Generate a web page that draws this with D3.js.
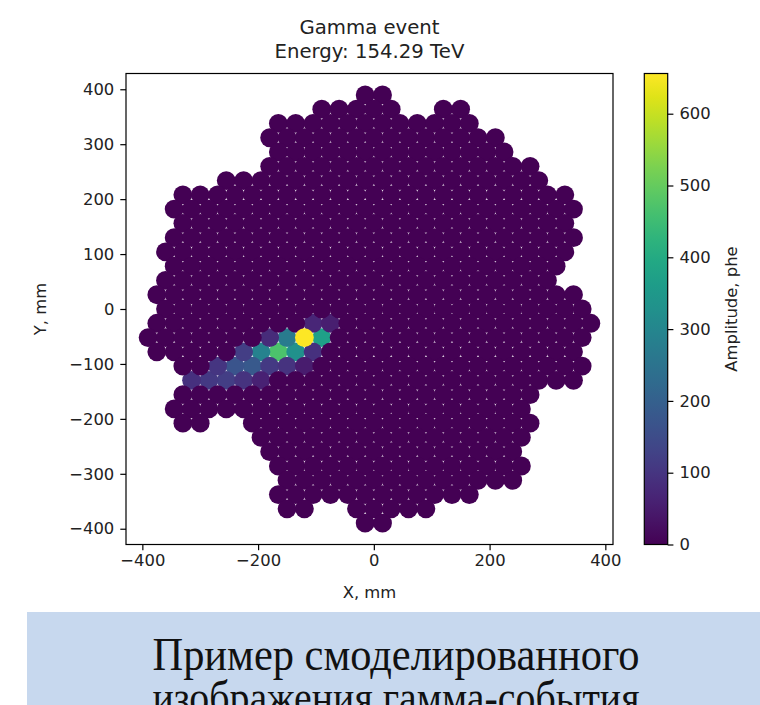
<!DOCTYPE html>
<html>
<head>
<meta charset="utf-8">
<script src="https://cdn.jsdelivr.net/npm/d3@7"></script>
<style>
body { margin: 0; background: #fff; }
svg { display: block; font-family: "DejaVu Sans", sans-serif; }
</style>
</head>
<body>
<svg width="760" height="705"></svg>
<script>
var svg = d3.select("svg");

// camera: hexagonal grid, pitch in mm, rows are horizontal
var pitch = 30,
    rowStep = pitch * Math.sqrt(3) / 2;

// camera outline: [row, first x, last x] (mm)
var cameraSegments = [
  [15, -15, 15],
  [14, -90, 30], [14, 120, 150],
  [13, -165, 165],
  [12, -180, 210],
  [11, -165, 225],
  [10, -180, 270],
  [9, -255, 285],
  [8, -330, 330],
  [7, -345, 345],
  [6, -330, 330],
  [5, -345, 345],
  [4, -360, 330],
  [3, -345, 315],
  [2, -360, 300],
  [1, -375, 345],
  [0, -360, 360],
  [-1, -375, 375],
  [-2, -390, 360],
  [-3, -375, 345],
  [-4, -330, 360],
  [-5, -315, 345],
  [-6, -330, 270],
  [-7, -345, 255],
  [-8, -330, -300], [-8, -210, 270],
  [-9, -195, 255],
  [-10, -180, 240],
  [-11, -165, 255],
  [-12, -150, 240],
  [-13, -165, 165],
  [-14, -150, -120], [-14, -30, 90],
  [-15, -15, 15]
];

// pixels with signal (everything else ~0 phe)
var litRow = [-1, -1,
              -2, -2, -2, -2,
              -3, -3, -3, -3, -3,
              -4, -4, -4, -4, -4, -4,
              -5, -5, -5, -5, -5];
var litX   = [-105, -75,
              -180, -150, -120, -90,
              -225, -195, -165, -135, -105,
              -270, -240, -210, -180, -150, -120,
              -315, -285, -255, -225, -195];
var litAmp = [70, 55,
              80, 270, 656, 370,
              120, 290, 470, 330, 90,
              100, 170, 180, 110, 95, 50,
              90, 110, 120, 95, 60];

var xTicks = [-400, -200, 0, 200, 400],
    yTicks = [-400, -300, -200, -100, 0, 100, 200, 300, 400],
    cTicks = [0, 100, 200, 300, 400, 500, 600],
    ampMax = 656;

var titleLines = ["Gamma event", "Energy: 154.29 TeV"];
var captionLines = ["Пример смоделированного", "изображения гамма-события"];

// build pixel list
var pixels = [];
cameraSegments.forEach(function(s) {
  for (var px = s[1]; px <= s[2]; px += pitch) {
    pixels.push({ row: s[0], x: px, y: s[0] * rowStep, amp: 0 });
  }
});
litRow.forEach(function(r, i) {
  var p = pixels.find(function(d) { return d.row === r && d.x === litX[i]; });
  if (p) p.amp = litAmp[i];
});
// brighter pixels go under their dim neighbours, the peak is drawn last
pixels.sort(function(a, b) { return b.amp - a.amp; });
var peak = pixels.shift();
pixels.push(peak);

var plotLeft = 126, plotRight = 613, plotTop = 73.5, plotBottom = 544.5;

var x = d3.scaleLinear().domain([-428.25, 413.25]).range([plotLeft, plotRight]);
var y = d3.scaleLinear().domain([-428.7, 428.7]).range([plotBottom, plotTop]);
var color = d3.scaleSequential(d3.interpolateViridis).domain([0, ampMax]);

var tickFont = 16.4;
var minus = function(d) { return d < 0 ? "\u2212" + (-d) : d; };

// pixels
svg.append("g")
  .selectAll("circle")
  .data(pixels).enter()
  .append("circle")
    .attr("cx", function(d) { return x(d.x); })
    .attr("cy", function(d) { return y(d.y); })
    .attr("r", 9.4)
    .attr("fill", function(d) { return color(d.amp); });

// frame
svg.append("rect")
  .attr("x", plotLeft).attr("y", plotTop)
  .attr("width", plotRight - plotLeft).attr("height", plotBottom - plotTop)
  .attr("fill", "none").attr("stroke", "#000").attr("stroke-width", 1.2);

// axes
var xAxis = svg.append("g")
  .attr("transform", "translate(0," + plotBottom + ")")
  .call(d3.axisBottom(x).tickValues(xTicks).tickSize(5.7).tickPadding(4).tickFormat(minus));
var yAxis = svg.append("g")
  .attr("transform", "translate(" + plotLeft + ",0)")
  .call(d3.axisLeft(y).tickValues(yTicks).tickSize(5.7).tickPadding(6).tickFormat(minus));
[xAxis, yAxis].forEach(function(a) {
  a.select(".domain").remove();
  a.selectAll(".tick line").attr("stroke", "#000").attr("stroke-width", 1.2);
  a.selectAll(".tick text").attr("fill", "#222")
    .style("font-family", "DejaVu Sans").style("font-size", tickFont + "px");
});

svg.append("text")
  .attr("x", (plotLeft + plotRight) / 2).attr("y", 598)
  .attr("text-anchor", "middle").attr("font-size", tickFont).attr("fill", "#222")
  .text("X, mm");
svg.append("text")
  .attr("transform", "translate(46," + (plotTop + plotBottom) / 2 + ") rotate(-90)")
  .attr("text-anchor", "middle").attr("font-size", tickFont).attr("fill", "#222")
  .text("Y, mm");

// title
svg.append("g").selectAll("text")
  .data(titleLines).enter()
  .append("text")
    .attr("x", (plotLeft + plotRight) / 2)
    .attr("y", function(d, i) { return 34 + i * 24; })
    .attr("text-anchor", "middle")
    .attr("font-size", 19.7)
    .attr("fill", "#222")
    .text(function(d) { return d; });

// colorbar
var cbLeft = 644.3, cbWidth = 23.4;
var cy = d3.scaleLinear().domain([0, ampMax]).range([plotBottom, plotTop]);
var grad = svg.append("defs").append("linearGradient")
  .attr("id", "viridis").attr("x1", 0).attr("y1", 1).attr("x2", 0).attr("y2", 0);
d3.range(0, 1.0001, 0.05).forEach(function(t) {
  grad.append("stop").attr("offset", t).attr("stop-color", d3.interpolateViridis(t));
});
svg.append("rect")
  .attr("x", cbLeft).attr("y", plotTop)
  .attr("width", cbWidth).attr("height", plotBottom - plotTop)
  .attr("fill", "url(#viridis)")
  .attr("stroke", "#000").attr("stroke-width", 1.2);
var cAxis = svg.append("g")
  .attr("transform", "translate(" + (cbLeft + cbWidth) + ",0)")
  .call(d3.axisRight(cy).tickValues(cTicks).tickSize(5.7).tickPadding(6));
cAxis.select(".domain").remove();
cAxis.selectAll(".tick line").attr("stroke", "#000").attr("stroke-width", 1.2);
cAxis.selectAll(".tick text").attr("fill", "#222")
  .style("font-family", "DejaVu Sans").style("font-size", tickFont + "px");
svg.append("text")
  .attr("transform", "translate(737," + (plotTop + plotBottom) / 2 + ") rotate(-90)")
  .attr("text-anchor", "middle").attr("font-size", tickFont).attr("fill", "#222")
  .text("Amplitude, phe");

// slide caption box (second line runs off the bottom of the frame)
svg.append("rect")
  .attr("x", 27).attr("y", 612).attr("width", 760 - 27).attr("height", 100)
  .attr("fill", "#c7d8ee");
svg.append("g").selectAll("text")
  .data(captionLines).enter()
  .append("text")
    .attr("x", 396)
    .attr("y", function(d, i) { return 670 + i * 43; })
    .attr("text-anchor", "middle")
    .attr("font-family", "Liberation Serif, serif")
    .attr("font-size", 46)
    .attr("textLength", 487)
    .attr("lengthAdjust", "spacingAndGlyphs")
    .attr("fill", "#111")
    .text(function(d) { return d; });
</script>
</body>
</html>
